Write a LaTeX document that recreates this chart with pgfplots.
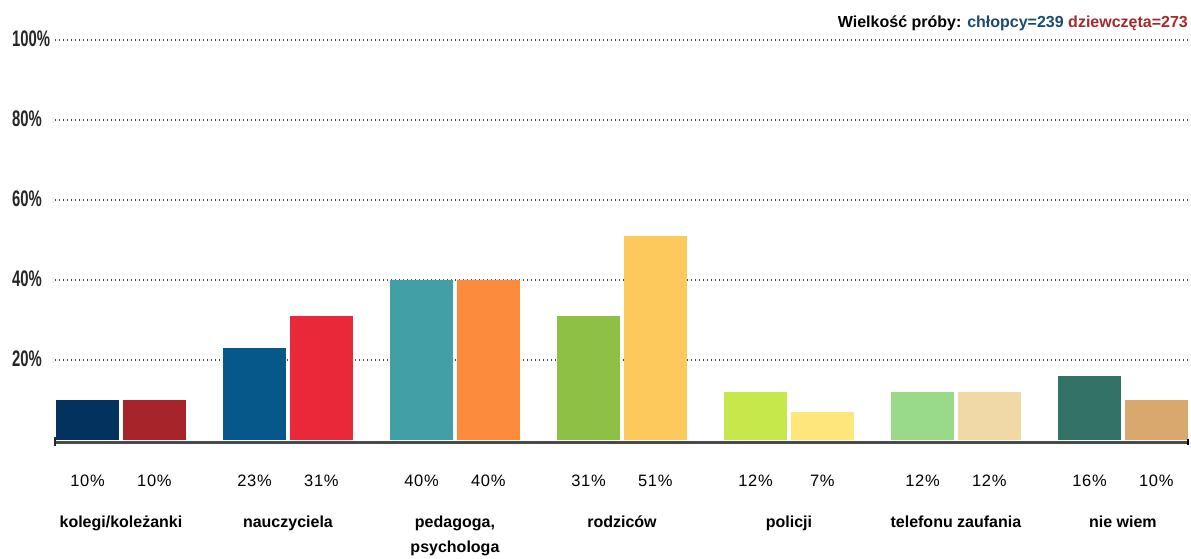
\documentclass[border=0pt]{standalone}
\usepackage{graphicx}
\usepackage{pgfplots}
\pgfplotsset{compat=1.18}
\usepackage{fontspec}
\setmainfont{Liberation Sans}
\usetikzlibrary{calc}

% bar colours, one per bar
\definecolor{c1}{HTML}{04325F}
\definecolor{c2}{HTML}{A6242A}
\definecolor{c3}{HTML}{06578A}
\definecolor{c4}{HTML}{E9293A}
\definecolor{c5}{HTML}{429FA6}
\definecolor{c6}{HTML}{FC8B3D}
\definecolor{c7}{HTML}{8FC046}
\definecolor{c8}{HTML}{FDC85C}
\definecolor{c9}{HTML}{C6E84B}
\definecolor{c10}{HTML}{FEE67B}
\definecolor{c11}{HTML}{98DA8A}
\definecolor{c12}{HTML}{F1D8A7}
\definecolor{c13}{HTML}{337367}
\definecolor{c14}{HTML}{D9A86E}
\definecolor{boyblue}{HTML}{1B4A72}
\definecolor{girlred}{HTML}{A52A2A}
\definecolor{axisgray}{HTML}{4A4A4A}

\newcommand{\ylab}[1]{\scalebox{0.66}[1]{\bfseries\fontsize{22.5}{22.5}\selectfont #1}}

\begin{document}
\begin{tikzpicture}
\begin{axis}[
  name=ax,
  scale only axis,
  width=1133pt, height=400pt,
  xmin=-0.395, xmax=6.39,
  ymin=0, ymax=100,
  clip=false,
  axis line style={draw=none},
  major tick length=0pt,
  ytick={20,40,60,80,100},
  yticklabels={\ylab{20\%},\ylab{40\%},\ylab{60\%},\ylab{80\%},\ylab{100\%}},
  yticklabel style={anchor=west, inner sep=0pt, xshift=-43pt, yshift=1pt, text=black!85},
  ymajorgrids,
  grid style={line width=1.3pt, dash pattern=on 1.3pt off 2.7pt, color=black!70},
  xtick={0,1,2,3,4,5,6},
  xticklabels={kolegi/koleżanki, nauczyciela, {pedagoga,\\psychologa}, rodziców, policji, telefonu zaufania, nie wiem},
  xticklabel style={anchor=north, inner sep=0pt, align=center,
    font=\bfseries\fontsize{16}{25}\selectfont},
  xticklabel shift=76pt,
  extra x ticks={-0.2,0.2,0.8,1.2,1.8,2.2,2.8,3.2,3.8,4.2,4.8,5.2,5.8,6.2},
  extra x tick labels={10\%,10\%,23\%,31\%,40\%,40\%,31\%,51\%,12\%,7\%,12\%,12\%,16\%,10\%},
  extra x tick style={xticklabel shift=35pt,
    xticklabel style={font=\fontsize{16.5}{20}\selectfont\addfontfeature{LetterSpace=4}}},
]
% left bar of each pair: chłopcy, right bar: dziewczęta
\addplot[ybar, bar width=63pt, bar shift=-33.5pt, fill=c1, draw=none] coordinates {(0,10)};
\addplot[ybar, bar width=63pt, bar shift=33.5pt, fill=c2, draw=none] coordinates {(0,10)};
\addplot[ybar, bar width=63pt, bar shift=-33.5pt, fill=c3, draw=none] coordinates {(1,23)};
\addplot[ybar, bar width=63pt, bar shift=33.5pt, fill=c4, draw=none] coordinates {(1,31)};
\addplot[ybar, bar width=63pt, bar shift=-33.5pt, fill=c5, draw=none] coordinates {(2,40)};
\addplot[ybar, bar width=63pt, bar shift=33.5pt, fill=c6, draw=none] coordinates {(2,40)};
\addplot[ybar, bar width=63pt, bar shift=-33.5pt, fill=c7, draw=none] coordinates {(3,31)};
\addplot[ybar, bar width=63pt, bar shift=33.5pt, fill=c8, draw=none] coordinates {(3,51)};
\addplot[ybar, bar width=63pt, bar shift=-33.5pt, fill=c9, draw=none] coordinates {(4,12)};
\addplot[ybar, bar width=63pt, bar shift=33.5pt, fill=c10, draw=none] coordinates {(4,7)};
\addplot[ybar, bar width=63pt, bar shift=-33.5pt, fill=c11, draw=none] coordinates {(5,12)};
\addplot[ybar, bar width=63pt, bar shift=33.5pt, fill=c12, draw=none] coordinates {(5,12)};
\addplot[ybar, bar width=63pt, bar shift=-33.5pt, fill=c13, draw=none] coordinates {(6,16)};
\addplot[ybar, bar width=63pt, bar shift=33.5pt, fill=c14, draw=none] coordinates {(6,10)};

% baseline and its end ticks
\draw[line width=3pt, axisgray] ([yshift=-2pt]rel axis cs:0,0) -- ([yshift=-2pt]rel axis cs:1,0);
\draw[line width=2pt, black!85] ([yshift=3pt]rel axis cs:0,0) -- ([yshift=-6pt]rel axis cs:0,0);
\draw[line width=2pt, black] ([yshift=1pt]rel axis cs:1,0) -- ([yshift=-5pt]rel axis cs:1,0);

\node[anchor=base east, inner sep=0pt, font=\bfseries\fontsize{16}{16}\selectfont]
  at ([yshift=13pt]rel axis cs:1,1)
  {Wielkość próby: \textcolor{boyblue}{chłopcy=239} \textcolor{girlred}{dziewczęta=273}};
\end{axis}
\pgfresetboundingbox
\path[use as bounding box] ([shift={(-55pt,-118pt)}]ax.south west) rectangle ([shift={(1136pt,440pt)}]ax.south west);
\end{tikzpicture}
\end{document}
